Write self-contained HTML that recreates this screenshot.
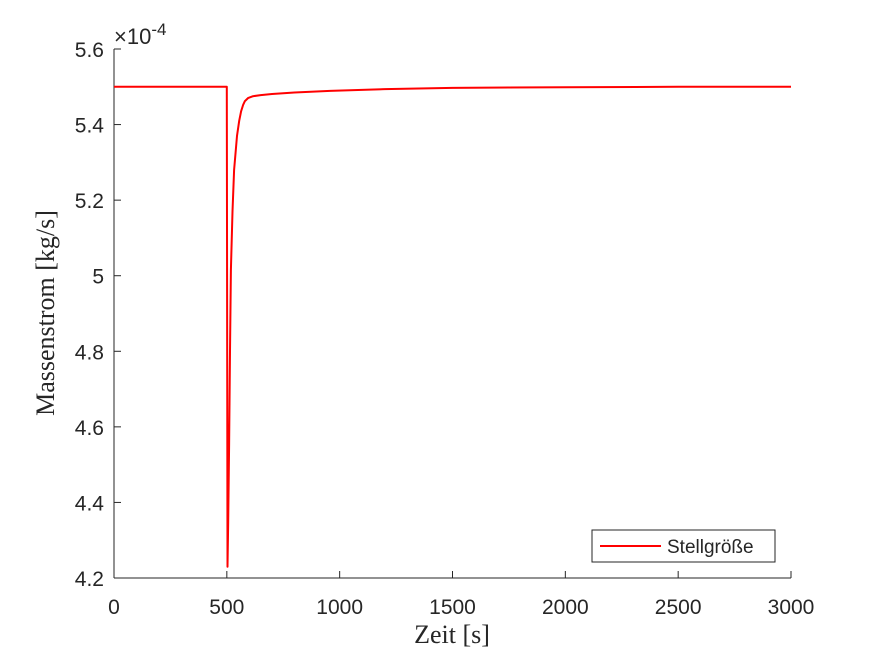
<!DOCTYPE html>
<html><head><meta charset="utf-8"><style>
body{margin:0;background:#fff}
svg{display:block}
.t{font-family:"Liberation Sans",Arial,sans-serif;font-size:21px;fill:#262626}
.s{font-family:"Liberation Serif","DejaVu Serif",serif;font-size:26px;fill:#262626}
</style></head><body>
<svg id="c" width="875" height="656">
<rect width="875" height="656" fill="#fff"/>
<g id="ax"></g>
<g id="plot"></g>
<text class="s" x="452" y="643" text-anchor="middle">Zeit [s]</text>
<text class="s" transform="translate(54,313) rotate(-90)" text-anchor="middle">Massenstrom [kg/s]</text>
<text class="t" x="114" y="44" style="font-size:22px">×10<tspan dy="-9" font-size="17">-4</tspan></text>
<g>
<rect x="592" y="530" width="183" height="32" fill="#fff" stroke="#262626" stroke-width="1"/>
<line x1="600" y1="546" x2="661" y2="546" stroke="#f00" stroke-width="2"/>
<text class="t" x="667" y="553" style="font-size:19px" fill="#000">Stellgröße</text>
</g>
</svg>
<script>
const xTicks=[0,500,1000,1500,2000,2500,3000];
const yTicks=[4.2,4.4,4.6,4.8,5,5.2,5.4,5.6];
const times=[0,499,500,503,506,510,514,518,525,532,545,555,563,572,580,594,616,650,700,800,957,1200,1500,2000,2500,3000];
const values=[5.5,5.5,5.5,4.23,4.35,4.55,4.8,5.015,5.17,5.28,5.37,5.41,5.435,5.452,5.462,5.47,5.475,5.478,5.481,5.485,5.489,5.494,5.497,5.499,5.5,5.5];
const X0=114,X1=791,Y0=578,Y1=49;
const sx=t=>X0+(t-0)/3000*(X1-X0);
const sy=v=>Y0-(v-4.2)/1.4*(Y0-Y1);
const ns="http://www.w3.org/2000/svg";
const ax=document.getElementById('ax');
function mk(tag,attrs,parent){const e=document.createElementNS(ns,tag);for(const k in attrs)e.setAttribute(k,attrs[k]);parent.appendChild(e);return e;}
const xl=mk('line',{x1:X0,y1:Y0,x2:X1,y2:Y0,stroke:'#262626','stroke-width':1},ax);


const yl=mk('line',{x1:X0,y1:Y0,x2:X0,y2:Y1,stroke:'#262626','stroke-width':1},ax);


xTicks.forEach(t=>{
 const x=sx(t);
 mk('line',{x1:x,y1:Y0,x2:x,y2:Y0-7,stroke:'#262626'},ax);
 const tx=mk('text',{x:x,y:614,'text-anchor':'middle',class:'t'},ax);
 tx.textContent=t;
 
 
});
yTicks.forEach(v=>{
 const y=sy(v);
 mk('line',{x1:X0,y1:y,x2:X0+7,y2:y,stroke:'#262626'},ax);
 const tx=mk('text',{x:104,y:y+8,'text-anchor':'end',class:'t'},ax);
 tx.textContent=String(v);
 
 
});
const pts=times.map((t,i)=>sx(t).toFixed(1)+','+sy(values[i]).toFixed(1)).join(' ');
const pl=mk('polyline',{points:pts,fill:'none',stroke:'#f00','stroke-width':2,'stroke-linejoin':'round'},document.getElementById('plot'));


</script>
</body></html>
